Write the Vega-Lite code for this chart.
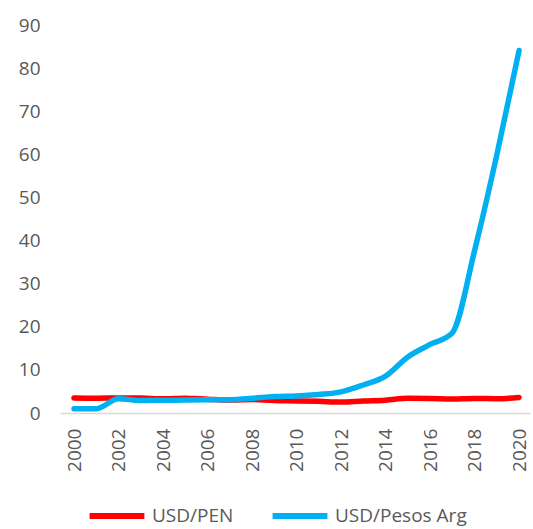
{
  "$schema": "https://vega.github.io/schema/vega-lite/v6.json",
  "width": 470,
  "height": 388,
  "autosize": {"type": "none"},
  "padding": {"left": 60, "top": 25, "right": 3, "bottom": 116},
  "background": "white",
  "config": {
    "view": {"stroke": null},
    "font": "Open Sans",
    "axis": {"labelColor": "#595959", "labelFont": "Open Sans", "labelFontSize": 19, "grid": false, "ticks": false, "tickSize": 0, "title": null}
  },
  "data": {
    "values": [
      {"year": 2000, "series": "USD/PEN", "value": 3.5},
      {"year": 2001, "series": "USD/PEN", "value": 3.45},
      {"year": 2002, "series": "USD/PEN", "value": 3.5},
      {"year": 2003, "series": "USD/PEN", "value": 3.46},
      {"year": 2004, "series": "USD/PEN", "value": 3.28},
      {"year": 2005, "series": "USD/PEN", "value": 3.43},
      {"year": 2006, "series": "USD/PEN", "value": 3.2},
      {"year": 2007, "series": "USD/PEN", "value": 3.0},
      {"year": 2008, "series": "USD/PEN", "value": 3.14},
      {"year": 2009, "series": "USD/PEN", "value": 2.89},
      {"year": 2010, "series": "USD/PEN", "value": 2.81},
      {"year": 2011, "series": "USD/PEN", "value": 2.7},
      {"year": 2012, "series": "USD/PEN", "value": 2.55},
      {"year": 2013, "series": "USD/PEN", "value": 2.8},
      {"year": 2014, "series": "USD/PEN", "value": 2.98},
      {"year": 2015, "series": "USD/PEN", "value": 3.41},
      {"year": 2016, "series": "USD/PEN", "value": 3.36},
      {"year": 2017, "series": "USD/PEN", "value": 3.24},
      {"year": 2018, "series": "USD/PEN", "value": 3.37},
      {"year": 2019, "series": "USD/PEN", "value": 3.31},
      {"year": 2020, "series": "USD/PEN", "value": 3.62},
      {"year": 2000, "series": "USD/Pesos Arg", "value": 1.0},
      {"year": 2001, "series": "USD/Pesos Arg", "value": 1.0},
      {"year": 2002, "series": "USD/Pesos Arg", "value": 3.3},
      {"year": 2003, "series": "USD/Pesos Arg", "value": 2.9},
      {"year": 2004, "series": "USD/Pesos Arg", "value": 2.95},
      {"year": 2005, "series": "USD/Pesos Arg", "value": 3.0},
      {"year": 2006, "series": "USD/Pesos Arg", "value": 3.05},
      {"year": 2007, "series": "USD/Pesos Arg", "value": 3.1},
      {"year": 2008, "series": "USD/Pesos Arg", "value": 3.4},
      {"year": 2009, "series": "USD/Pesos Arg", "value": 3.8},
      {"year": 2010, "series": "USD/Pesos Arg", "value": 3.95},
      {"year": 2011, "series": "USD/Pesos Arg", "value": 4.3},
      {"year": 2012, "series": "USD/Pesos Arg", "value": 4.9},
      {"year": 2013, "series": "USD/Pesos Arg", "value": 6.5},
      {"year": 2014, "series": "USD/Pesos Arg", "value": 8.55},
      {"year": 2015, "series": "USD/Pesos Arg", "value": 13.0},
      {"year": 2016, "series": "USD/Pesos Arg", "value": 15.9},
      {"year": 2017, "series": "USD/Pesos Arg", "value": 18.6},
      {"year": 2018, "series": "USD/Pesos Arg", "value": 37.7},
      {"year": 2019, "series": "USD/Pesos Arg", "value": 59.9},
      {"year": 2020, "series": "USD/Pesos Arg", "value": 84.1}
    ]
  },
  "mark": {"type": "line", "interpolate": "monotone", "strokeWidth": 5.5, "strokeCap": "round", "strokeJoin": "round"},
  "encoding": {
    "x": {
      "field": "year", "type": "quantitative",
      "scale": {"domain": [1999.37, 2020.49], "nice": false, "zero": false},
      "axis": {"values": [2000, 2002, 2004, 2006, 2008, 2010, 2012, 2014, 2016, 2018, 2020], "format": "d", "labelAngle": -90, "labelPadding": 15, "domainColor": "#d9d9d9", "domainWidth": 1.5, "labelBaseline": "middle", "labelAlign": "right"}
    },
    "y": {
      "field": "value", "type": "quantitative",
      "scale": {"domain": [0, 90], "nice": false},
      "axis": {"values": [0, 10, 20, 30, 40, 50, 60, 70, 80, 90], "domain": false, "labelPadding": 20}
    },
    "color": {
      "field": "series", "type": "nominal",
      "scale": {"domain": ["USD/PEN", "USD/Pesos Arg"], "range": ["#ff0000", "#00b0f0"]},
      "legend": {
        "title": null, "orient": "none", "direction": "horizontal",
        "legendX": 40, "legendY": 474, "padding": 0,
        "symbolType": "M-2,0H2", "symbolSize": 750, "symbolStrokeWidth": 6,
        "labelFontSize": 19, "labelColor": "#595959", "labelFont": "Open Sans",
        "columnPadding": 26, "labelOffset": 18, "labelLimit": 300
      }
    }
  }
}
